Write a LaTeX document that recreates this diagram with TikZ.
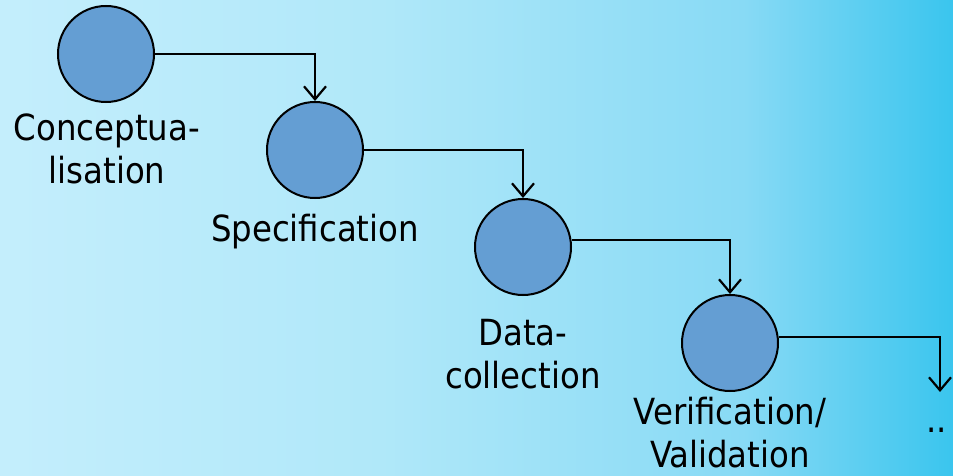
\documentclass[tikz,border=0pt]{standalone}
\usepackage{fontspec}
\setmainfont{DejaVu Sans Condensed}
\usetikzlibrary{arrows.meta}

\definecolor{bgA}{HTML}{C4EEFC}
\definecolor{bgB}{HTML}{B0E8F9}
\definecolor{bgC}{HTML}{88DAF5}
\definecolor{bgD}{HTML}{3AC5EE}
\definecolor{stagefill}{HTML}{649ED3}

% sky-blue backdrop, pale on the left and cyan on the right
% (stops laid out over the 25bp--75bp band that TikZ maps onto the path)
\pgfdeclarehorizontalshading{skyback}{100bp}{%
  color(0bp)=(bgA); color(25bp)=(bgA); color(45bp)=(bgB);
  color(64bp)=(bgC); color(75bp)=(bgD); color(100bp)=(bgD)}

\begin{document}
\begin{tikzpicture}[x=1pt,y=-1pt,
  stage/.style={circle, draw=black, line width=2pt, fill=stagefill,
                minimum size=96pt, inner sep=0pt},
  label/.style={font=\fontsize{36}{43}\selectfont, align=center, text=black,
                inner sep=0pt},
  flow/.style={line width=2.2pt, draw=black,
               -{Straight Barb[length=13pt,width=22pt,line width=2.2pt]}}]

  % backdrop
  \fill[shading=skyback] (0,0) rectangle (953,476);
  \useasboundingbox (0,0) rectangle (953,476);

  % process stages
  \node[stage] (c1) at (106,54)  {};
  \node[stage] (c2) at (315,150) {};
  \node[stage] (c3) at (523,247) {};
  \node[stage] (c4) at (730,343) {};

  % stage names
  \node[label] (t1) at (107,149) {Conceptua-\\lisation};
  \node[label] (t2) at (315,232) {Specification};
  \node[label] (t3) at (523,354) {Data-\\collection};
  \node[label] (t4) at (730,433) {Verification/\\Validation};
  \node[label, anchor=west] (t5) at (926,430) {..};

  % connectors between stages
  \coordinate (next) at (940,392);
  \draw[flow] (c1.east) -| (c2.north);
  \draw[flow] (c2.east) -| (c3.north);
  \draw[flow] (c3.8) -| (c4.north);
  \draw[flow] (c4.7) -| (next);
\end{tikzpicture}
\end{document}
